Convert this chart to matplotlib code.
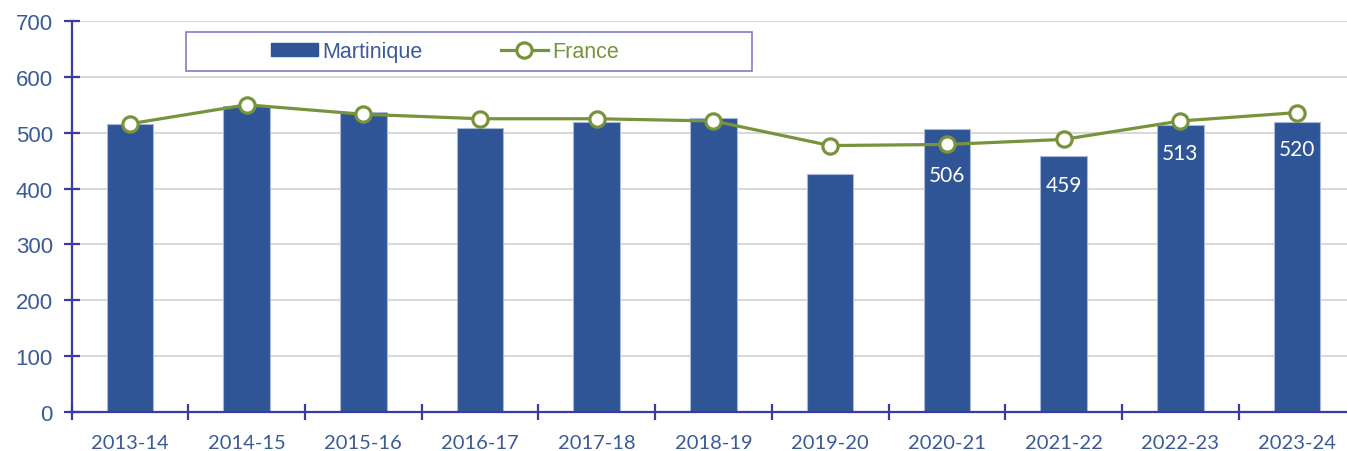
import matplotlib
matplotlib.use("Agg")
import matplotlib.pyplot as plt
from matplotlib.patches import Rectangle
from matplotlib.lines import Line2D
from matplotlib.patches import Patch
import numpy as np

categories = ["2013-14", "2014-15", "2015-16", "2016-17", "2017-18", "2018-19",
              "2019-20", "2020-21", "2021-22", "2022-23", "2023-24"]
martinique = [515, 547, 537, 509, 520, 526, 426, 506, 459, 513, 520]
france = [516, 550, 533, 525, 525, 521, 477, 479, 488, 521, 536]
labelled = {"2020-21": 506, "2021-22": 459, "2022-23": 513, "2023-24": 520}
yticks = [0, 100, 200, 300, 400, 500, 600, 700]

BAR = "#2F5597"
GREEN = "#77933C"
AXIS = "#3B3B9E"
TXT = "#3A5A98"

W, H = 1347, 452
fig = plt.figure(figsize=(W / 100, H / 100), dpi=100)
left, right, bottom, top = 71.6, 1355.3, 413, 22
ax = fig.add_axes([left / W, (H - bottom) / H, (right - left) / W, (bottom - top) / H])

x = np.arange(len(categories))
ax.bar(x, martinique, width=0.4, color=BAR, edgecolor="#A9B8D8", linewidth=0.8, zorder=2)
ax.plot(x, france, color=GREEN, linewidth=2.3, marker="o", markersize=11,
        markerfacecolor="white", markeredgecolor=GREEN, markeredgewidth=2.3, zorder=3)

offsets = {"2020-21": -33, "2021-22": -21, "2022-23": -20, "2023-24": -20}
for cat, val in labelled.items():
    i = categories.index(cat)
    ax.annotate(str(val), (i, val), xytext=(0, offsets[cat]), textcoords="offset points",
                ha="center", va="center", color="white", fontsize=15, family="Lato", zorder=4)

ax.set_xlim(-0.5, len(categories) - 0.5)
ax.set_ylim(0, 700)
ax.set_yticks(yticks)
ax.set_yticklabels([str(v) for v in yticks])
ax.set_xticks(x)
ax.set_xticklabels(categories)
ax.set_xticks(np.arange(len(categories) + 1) - 0.5, minor=True)

ax.grid(axis="y", color="#D9D9D9", linewidth=1.5, zorder=0)
ax.set_axisbelow(True)
for s in ["top", "right"]:
    ax.spines[s].set_visible(False)
for s in ["left", "bottom"]:
    ax.spines[s].set_color(AXIS)
    ax.spines[s].set_linewidth(1.6)

ax.tick_params(axis="y", direction="inout", length=11, width=1.6, color=AXIS,
               labelcolor=TXT, labelsize=16, pad=8)
for t in ax.get_yticklabels():
    t.set_family("Liberation Sans")
ax.tick_params(axis="x", which="major", length=0, labelcolor=TXT, labelsize=14.5, pad=16)
ax.tick_params(axis="x", which="minor", direction="inout", length=11, width=1.6, color=AXIS)
for t in ax.get_xticklabels():
    t.set_family("Lato")

# legend
fig.patches.append(Rectangle((186 / W, 1 - 72 / H), (752 - 186) / W, (72 - 33) / H,
                             transform=fig.transFigure, fill=False, edgecolor="#7F7FC4",
                             linewidth=1.2, zorder=5))
handles = [Patch(facecolor=BAR, edgecolor=BAR),
           Line2D([0], [0], color=GREEN, linewidth=2.3, marker="o", markersize=11,
                  markerfacecolor="white", markeredgecolor=GREEN, markeredgewidth=2.3)]
leg = fig.legend(handles, ["Martinique", "France"], loc="center",
                 bbox_to_anchor=(445 / W, 1 - 52.5 / H), ncol=2, frameon=False,
                 prop={"family": "Liberation Sans", "size": 15.5},
                 handlelength=2.2, handleheight=0.6, handletextpad=0.2, columnspacing=3.6)
leg.get_texts()[0].set_color(TXT)
leg.get_texts()[1].set_color(GREEN)

fig.savefig("out.png", dpi=100)
